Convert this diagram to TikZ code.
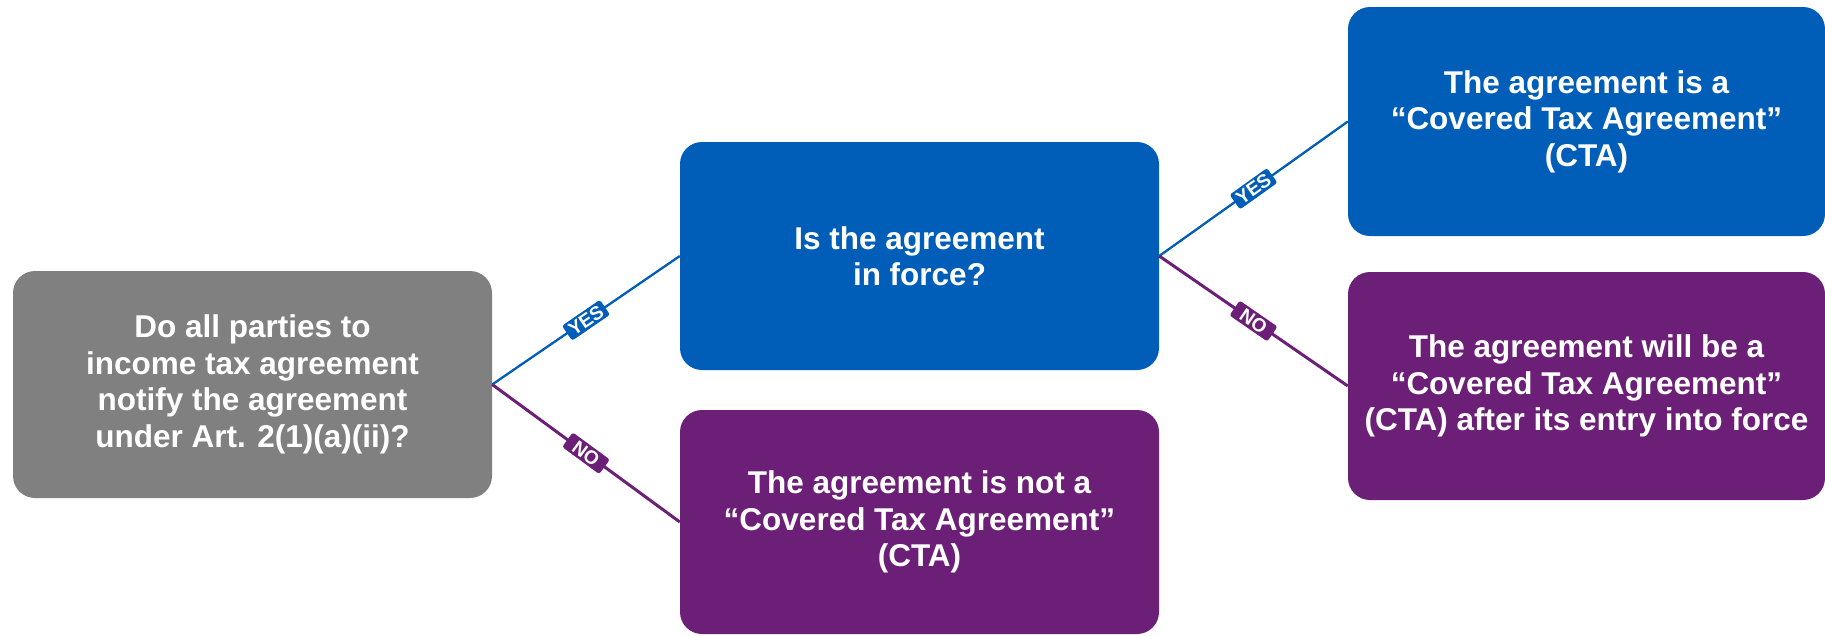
\documentclass[tikz,border=0pt]{standalone}
\usepackage{fontspec}
\setmainfont{Liberation Sans}
\definecolor{cblue}{HTML}{005EB8}
\definecolor{cpurple}{HTML}{6C1F76}
\definecolor{cgray}{HTML}{808080}
\tikzset{
  box/.style={rounded corners=22pt, text=white, align=center, inner sep=0pt,
    font=\fontsize{31.5}{36.5}\selectfont\bfseries},
  graybox/.style={box, fill=cgray},
  bluebox/.style={box, fill=cblue},
  purplebox/.style={box, fill=cpurple},
  yesline/.style={draw=cblue, line width=2.3pt},
  noline/.style={draw=cpurple, line width=3pt},
  tag/.style={sloped, midway, text=white, rounded corners=2.5pt, inner sep=0pt,
    minimum width=46pt, minimum height=18pt, font=\fontsize{19}{19}\selectfont\bfseries},
}
\begin{document}
\begin{tikzpicture}[x=1pt,y=-1pt]
\useasboundingbox (0,0) rectangle (1825,635);
\node[graybox, minimum width=479pt, minimum height=227pt] (q1) at (252.5,384.5)
  {Do all parties to\\income tax agreement\\notify the agreement\\under Art. 2(1)(a)(ii)?};
\node[bluebox, minimum width=479pt, minimum height=228pt] (q2) at (919.5,256)
  {Is the agreement\\in force?};
\node[purplebox, minimum width=479pt, minimum height=224pt] (n1) at (919.5,522)
  {The agreement is not a\\“Covered Tax Agreement”\\(CTA)};
\node[bluebox, minimum width=477pt, minimum height=229pt] (y2) at (1586.5,121.5)
  {The agreement is a\\“Covered Tax Agreement”\\(CTA)};
\node[purplebox, minimum width=477pt, minimum height=228pt] (n2) at (1586.5,386)
  {The agreement will be a\\“Covered Tax Agreement”\\(CTA) after its entry into force};
\draw[yesline] (q1.east) -- node[tag, fill=cblue] {YES} (q2.west);
\draw[noline] (q1.east) -- node[tag, fill=cpurple] {NO} (n1.west);
\draw[yesline] (q2.east) -- node[tag, fill=cblue] {YES} (y2.west);
\draw[noline] (q2.east) -- node[tag, fill=cpurple] {NO} (n2.west);
\end{tikzpicture}
\end{document}
